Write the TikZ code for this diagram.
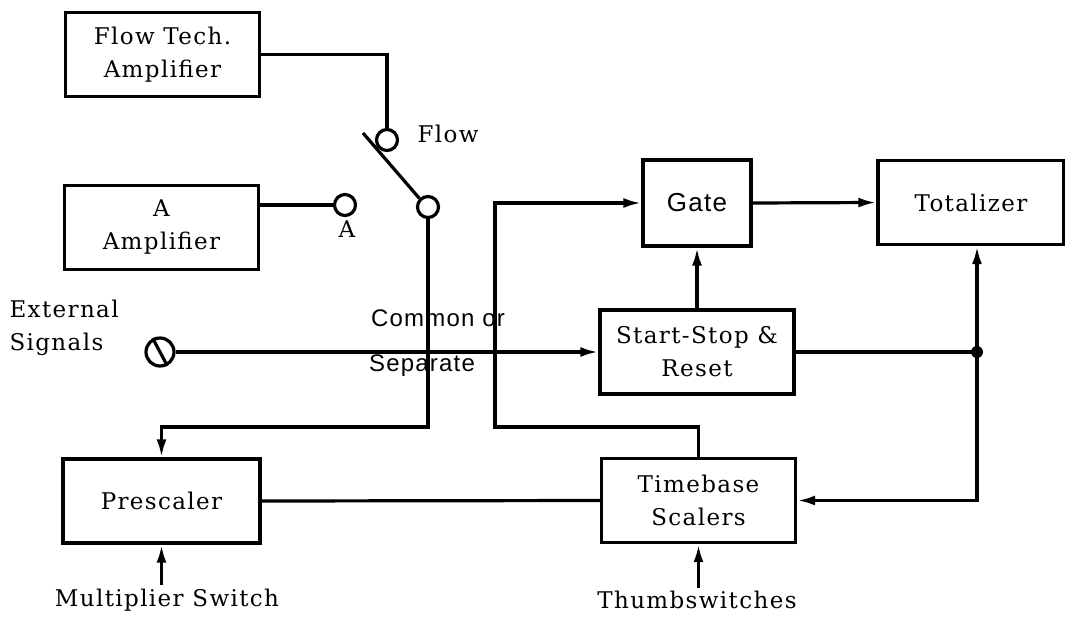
\documentclass[tikz,border=0pt]{standalone}
\usepackage{fontspec}
\setmainfont[LetterSpace=6]{DejaVu Serif}
\newfontfamily\gatefont[LetterSpace=5]{Liberation Sans}
\usepackage{tikz}
\usetikzlibrary{arrows.meta, positioning}
\newcommand\lblfont{\fontsize{23}{33}\selectfont}

\begin{document}
\begin{tikzpicture}[x=1pt, y=-1pt,
				block/.style={draw, line width=3.4pt, minimum width=194pt, minimum height=84pt, align=center, inner sep=0pt, font=\lblfont},
				contact/.style={circle, draw, line width=3.2pt, minimum size=21pt, inner sep=0pt},
				lbl/.style={font=\lblfont, align=left},
				sanslbl/.style={font=\gatefont\fontsize{24}{26}\selectfont},
				wire/.style={line width=3.2pt},
				arrowstyle/.style={-{Latex[length=18pt, width=10pt]}, line width=3.2pt}
			]
			\useasboundingbox (0,0) rectangle (1065,616);

			% --- Blocks ---
			\node[block] (flowamp) at (162.5, 54.5) {Flow Tech.\\Amplifier};
			\node[block] (aamp) at (161.5, 227.5) {A\\Amplifier};
			\node[block, minimum width=108pt, minimum height=86pt, font=\gatefont\fontsize{26}{30}\selectfont] (gate) at (697, 203) {Gate};
			\node[block, minimum width=186pt] (total) at (971, 202.5) {Totalizer};
			\node[block] (ssr) at (697, 352) {Start-Stop \&\\Reset};
			\node[block] (tbs) at (698.5, 500.5) {Timebase\\Scalers};
			\node[block, minimum width=197pt] (presc) at (161.5, 501) {Prescaler};

			% --- Switch contacts ---
			\node[contact] (flowc) at (387, 140) {};
			\node[contact] (outc) at (428, 207) {};
			\node[contact] (ac) at (345, 205) {};
			\node[contact, minimum size=28pt] (ext) at (160, 352) {};
			\draw[wire] (ext.118) -- (ext.-62);

			\coordinate (armtop) at (363, 133);
			\draw[wire] (armtop) -- (outc.135);

			% --- Labels ---
			\node[lbl, anchor=west] (flowlbl) at (414, 134) {Flow};
			\node[lbl] (alabel) at (347, 229) {A};
			\node[lbl, anchor=west] (extlbl) at (6, 328) {External\\Signals};
			\node[sanslbl] (common) at (438, 318) {Common or};
			\node[sanslbl] (separ) at (422, 366) {Separate};
			\node[lbl] (multsw) at (167, 600) {Multiplier Switch};
			\node[lbl] (thumbsw) at (697, 600) {Thumbswitches};

			% --- Connections ---
			\draw[wire] (flowamp.east) -| (flowc.north);
			\draw[wire] (ac.west) -- (ac.west -| aamp.east);
			\draw[arrowstyle] (outc.south) |- (presc.north |- 0,427) -- (presc.north);

			\draw[arrowstyle] (ext.east) -- (ssr.west);

			\coordinate (loopc) at (495, 427);
			\draw[arrowstyle] (tbs.north) |- (loopc) |- (gate.west);
			\draw[arrowstyle] (gate.east) -- (total.west);
			\draw[arrowstyle] (ssr.north) -- (gate.south);

			\coordinate (jn) at (977, 352);
			\draw[wire] (ssr.east) -- (jn);
			\fill (jn) circle (6pt);
			\draw[arrowstyle] (jn) -- (jn |- total.south);
			\draw[arrowstyle] (jn) |- (tbs.east);

			\draw[wire] (presc.east) -- (tbs.west);
			\draw[arrowstyle] (multsw.north -| presc.south) -- (presc.south);
			\draw[arrowstyle] (thumbsw.north -| tbs.south) -- (tbs.south);

		\end{tikzpicture}
\end{document}
